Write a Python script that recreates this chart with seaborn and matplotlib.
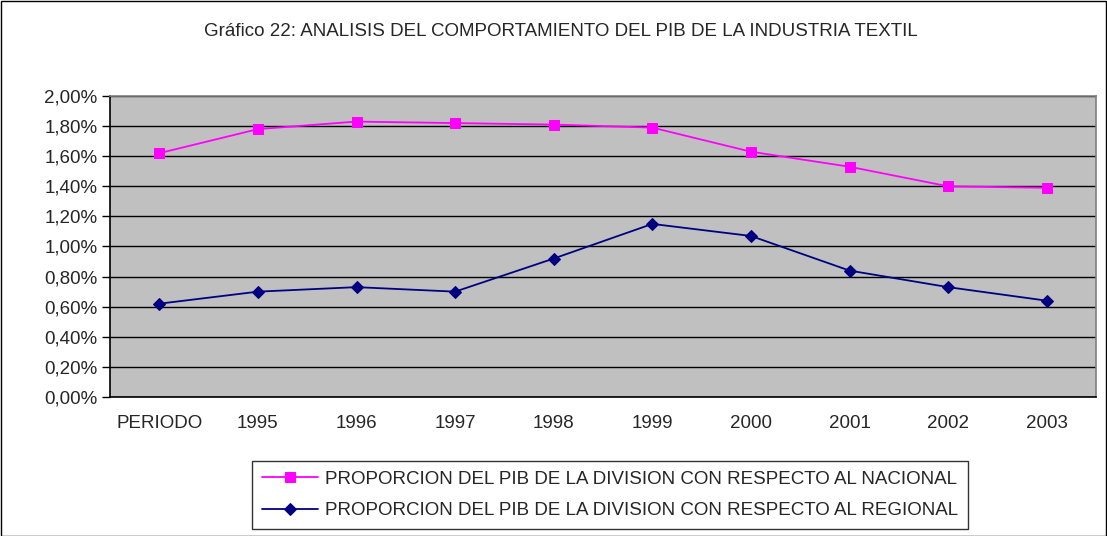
"""Recreate Excel-style line chart: PIB de la industria textil."""

import matplotlib

matplotlib.use("Agg")
import matplotlib.pyplot as plt
import pandas as pd
import seaborn as sns
from matplotlib.patches import Rectangle
from matplotlib.ticker import FuncFormatter, MultipleLocator

# Data (values in %)
categories = ["PERIODO", "1995", "1996", "1997", "1998", "1999", "2000", "2001", "2002", "2003"]
nacional = [1.62, 1.78, 1.83, 1.82, 1.81, 1.79, 1.63, 1.53, 1.40, 1.39]
regional = [0.62, 0.70, 0.73, 0.70, 0.92, 1.15, 1.07, 0.84, 0.73, 0.64]

label_nac = "PROPORCION DEL PIB DE LA DIVISION CON RESPECTO AL NACIONAL"
label_reg = "PROPORCION DEL PIB DE LA DIVISION CON RESPECTO AL REGIONAL"
title = "Gráfico 22: ANALISIS DEL COMPORTAMIENTO DEL PIB DE LA INDUSTRIA TEXTIL"

sns.set_style("white")
plt.rcParams["font.family"] = ["Liberation Sans", "DejaVu Sans"]
FS = 13.5

df = pd.DataFrame({"pos": range(len(categories)), "nac": nacional, "reg": regional})

W, H = 1107, 536
fig = plt.figure(figsize=(W / 100, H / 100), dpi=100)
ax = fig.add_axes([110 / W, 1 - 397 / H, (1096 - 110) / W, (397 - 96) / H])
ax.set_facecolor("#C0C0C0")

sns.lineplot(data=df, x="pos", y="nac", ax=ax, color="#FF00FF", marker="s",
             markersize=7, markeredgecolor="#FF00FF", linewidth=1.3, label=label_nac)
sns.lineplot(data=df, x="pos", y="reg", ax=ax, color="#000080", marker="D",
             markersize=6.5, markeredgecolor="#000080", linewidth=1.3, label=label_reg)

ax.set_xlim(-0.5, len(categories) - 0.5)
ax.set_ylim(0, 2.0)
ax.set_xlabel("")
ax.set_ylabel("")

# x labels centred on categories, tick marks on category boundaries
ax.set_xticks(range(len(categories)))
ax.set_xticklabels(categories, fontsize=FS)
ax.set_xticks([i - 0.5 for i in range(len(categories) + 1)], minor=True)
ax.tick_params(axis="x", which="major", length=0, pad=13)
ax.tick_params(axis="x", which="minor", length=5, width=1, color="black", direction="out")

ax.yaxis.set_major_locator(MultipleLocator(0.2))
ax.yaxis.set_major_formatter(FuncFormatter(lambda v, _: f"{v:.2f}%".replace(".", ",")))
ax.tick_params(axis="y", which="major", length=6, width=1, color="black",
               direction="out", labelsize=FS, pad=3, left=True)

ax.grid(axis="y", color="black", linewidth=1)
ax.set_axisbelow(True)
for side in ["left", "bottom"]:
    ax.spines[side].set_color("black")
    ax.spines[side].set_linewidth(1.2)
for side in ["top", "right"]:
    ax.spines[side].set_color("#808080")
    ax.spines[side].set_linewidth(1.2)

fig.text(561 / W, 1 - 32 / H, title, ha="center", va="center", fontsize=FS)

leg = ax.legend(loc="center", bbox_to_anchor=(610 / W, 1 - 495 / H),
                bbox_transform=fig.transFigure, frameon=True, fancybox=False,
                fontsize=FS, handlelength=3, handletextpad=0.35,
                borderpad=0.55, labelspacing=0.75, borderaxespad=0)
leg.get_frame().set_edgecolor("black")
leg.get_frame().set_linewidth(1)

fig.patches.append(Rectangle((0.5 / W, 0.5 / H), 1 - 1.5 / W, 1 - 1.5 / H,
                             transform=fig.transFigure, fill=False,
                             edgecolor="black", linewidth=1))

fig.savefig("out.png", dpi=100, facecolor="white")
